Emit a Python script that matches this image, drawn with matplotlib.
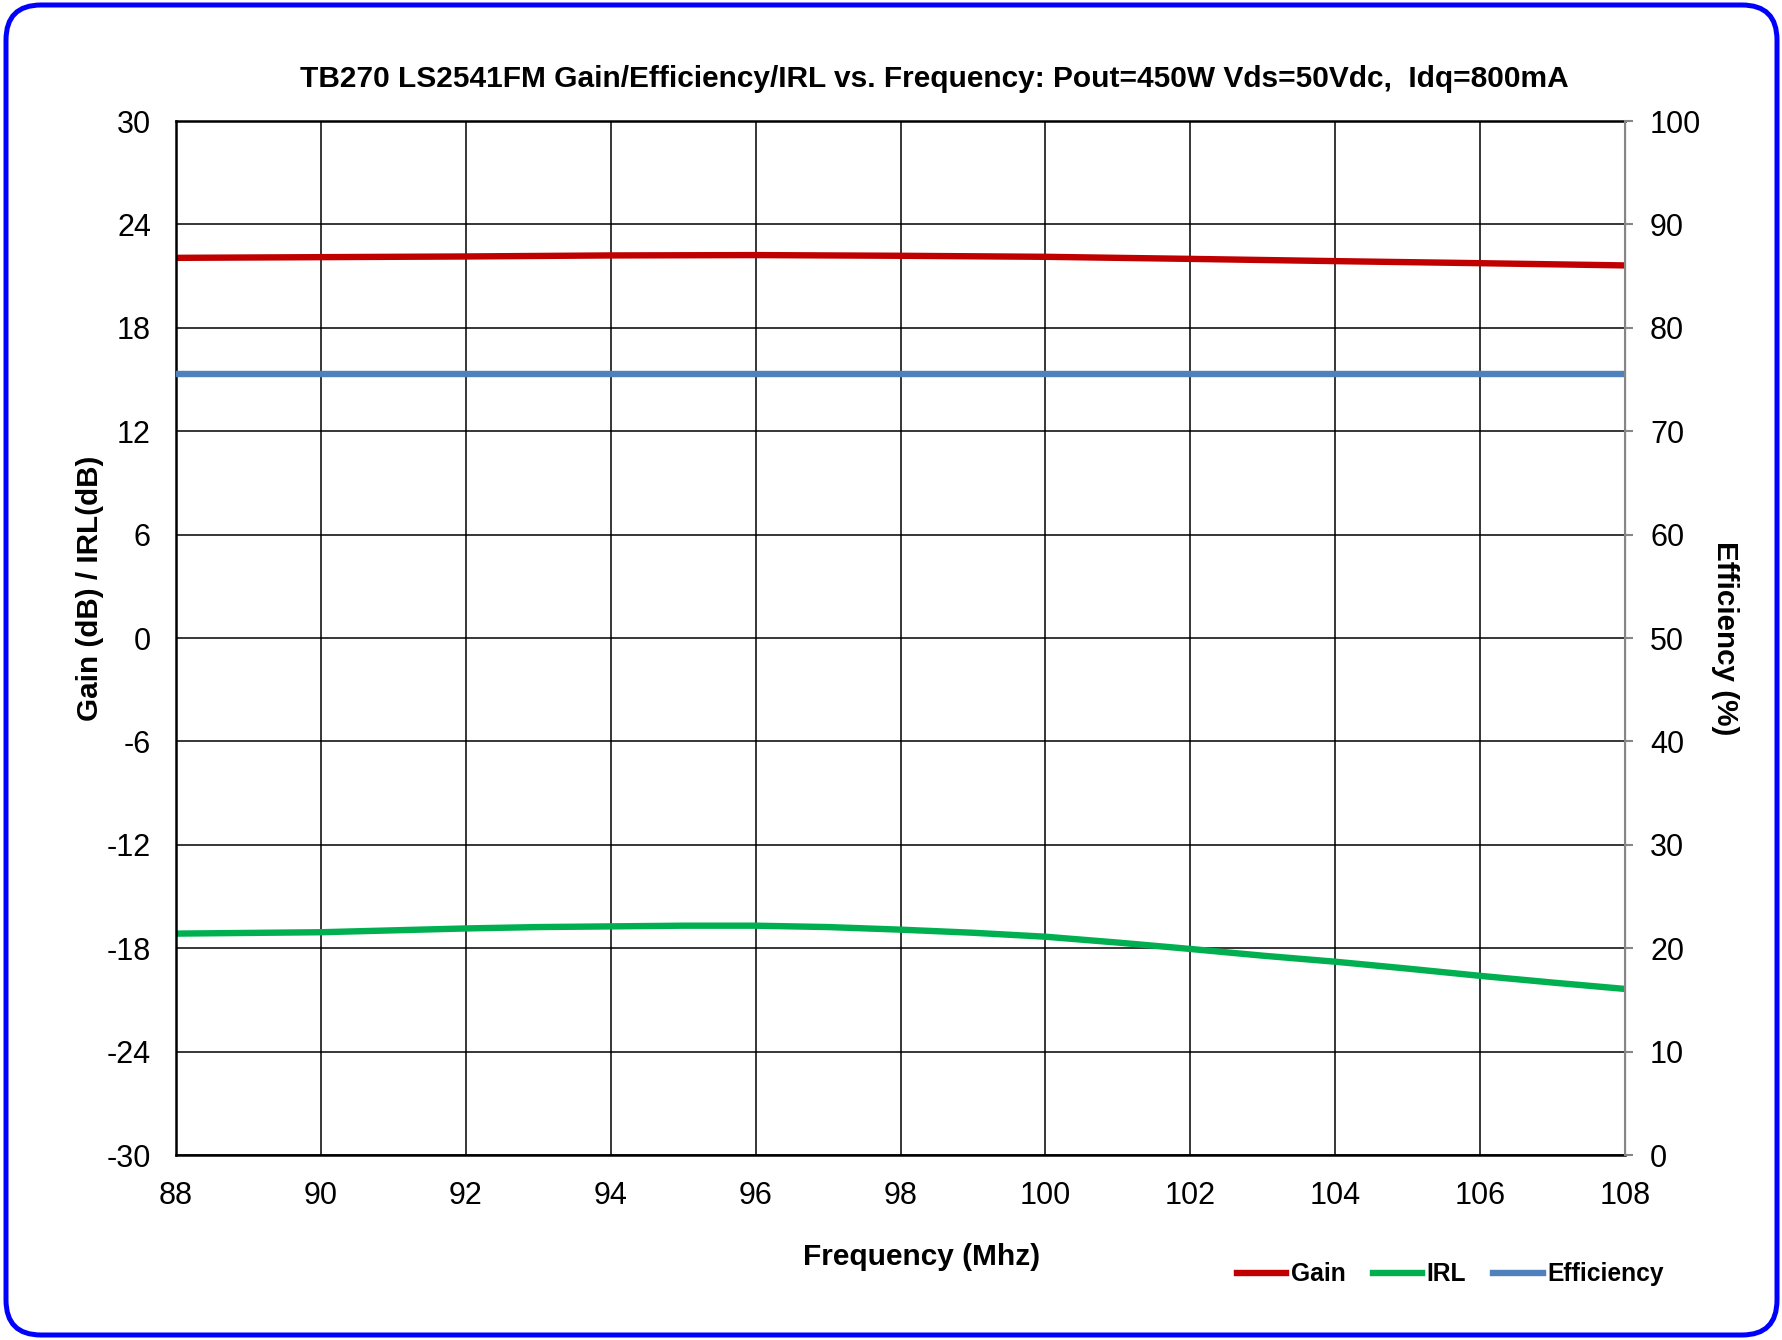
import matplotlib
matplotlib.use("Agg")
import matplotlib.pyplot as plt
import matplotlib.patches as mpatches
from matplotlib.transforms import IdentityTransform

plt.rcParams['font.family'] = ['Liberation Sans', 'DejaVu Sans']
plt.rcParams['axes.unicode_minus'] = False

# Datos
freq_gain = [88, 90, 92, 94, 96, 98, 100, 102, 104, 106, 108]
gain = [22.06, 22.10, 22.14, 22.20, 22.22, 22.18, 22.12, 22.00, 21.87, 21.75, 21.62]

freq_irl = [88, 89, 90, 91, 92, 93, 94, 95, 96, 97, 98, 99, 100, 101, 102, 103, 104, 105, 106, 107, 108]
irl = [-17.15, -17.11, -17.07, -16.96, -16.85, -16.77, -16.73, -16.69, -16.69, -16.77, -16.92,
       -17.10, -17.33, -17.67, -18.04, -18.43, -18.78, -19.18, -19.60, -19.99, -20.36]

freq_eff = [88, 92, 96, 100, 104, 108]
efficiency = [75.5, 75.5, 75.5, 75.5, 75.5, 75.5]

x_ticks = list(range(88, 109, 2))
left_ticks = list(range(-30, 31, 6))
right_ticks = list(range(0, 101, 10))

title = "TB270 LS2541FM Gain/Efficiency/IRL vs. Frequency: Pout=450W Vds=50Vdc,  Idq=800mA"

fig = plt.figure(figsize=(17.83, 13.40), dpi=100)
ax = fig.add_axes([0.0987, 0.138, 0.8127, 0.7717])
ax2 = ax.twinx()

ax.set_xlim(88, 108)
ax.set_ylim(-30, 30)
ax2.set_ylim(0, 100)
ax.set_xticks(x_ticks)
ax.set_yticks(left_ticks)
ax2.set_yticks(right_ticks)

ax.grid(True, color='black', linewidth=1.1)
ax.set_axisbelow(True)

l_gain, = ax.plot(freq_gain, gain, color='#C00000', linewidth=4.6, label='Gain')
l_irl, = ax.plot(freq_irl, irl, color='#00B050', linewidth=4.6, label='IRL')
l_eff, = ax2.plot(freq_eff, efficiency, color='#4F81BD', linewidth=4.6, label='Efficiency')

ax.tick_params(axis='both', length=0, labelsize=22)
ax.tick_params(axis='y', pad=18)
ax.tick_params(axis='x', pad=19)
ax2.tick_params(axis='y', length=6, width=1.5, color='#868686', labelsize=22, pad=12)

for s in ['left', 'top', 'bottom']:
    ax.spines[s].set_linewidth(1.8)
    ax.spines[s].set_color('black')
ax2.spines['right'].set_color('#868686')
ax2.spines['right'].set_linewidth(1.5)
for s in ['left', 'top', 'bottom']:
    ax2.spines[s].set_visible(False)

fig.text(0.524, 0.941, title, ha='center', va='center', fontsize=21.5, fontweight='bold')
fig.text(0.5166, 0.062, 'Frequency (Mhz)', ha='center', va='center', fontsize=21.5, fontweight='bold')
fig.text(0.0505, 0.561, 'Gain (dB) / IRL(dB)', ha='center', va='center', rotation=90,
         fontsize=21.3, fontweight='bold')
fig.text(0.9672, 0.524, 'Efficiency (%)', ha='center', va='center', rotation=270,
         fontsize=21.3, fontweight='bold')

fig.legend(handles=[l_gain, l_irl, l_eff], loc='center', bbox_to_anchor=(0.8135, 0.049),
           ncol=3, frameon=False, prop={'weight': 'bold', 'size': 17.7},
           handlelength=2.0, handletextpad=0.2, columnspacing=1.1)

# marco azul redondeado
frame = mpatches.FancyBboxPatch((6, 5), 1771, 1330,
                                boxstyle="round,pad=0,rounding_size=35",
                                transform=IdentityTransform(), facecolor='none',
                                edgecolor='#0000FF', linewidth=3.6)
fig.patches.append(frame)

fig.savefig("out.png", dpi=100)
